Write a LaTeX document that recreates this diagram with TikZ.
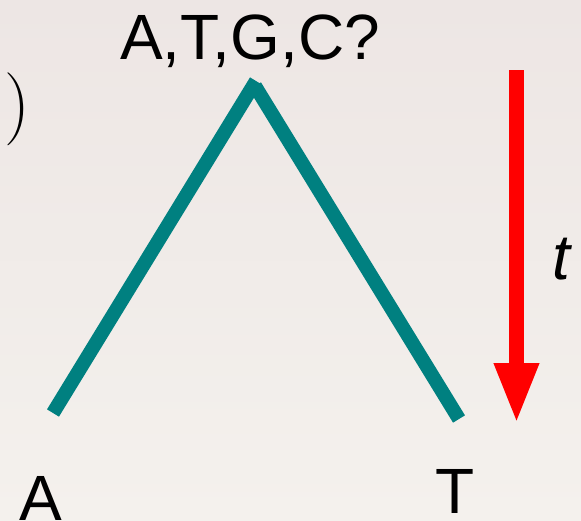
\documentclass[tikz,border=0pt]{standalone}
\usepackage{fontspec}
\setsansfont{Liberation Sans}
\usetikzlibrary{arrows.meta}
\definecolor{bgtop}{HTML}{EDE6E4}
\definecolor{bgbot}{HTML}{F4F1ED}
\definecolor{teal}{HTML}{008080}
\tikzset{
  lbl/.style={font=\sffamily\fontsize{64}{64}\selectfont, text=black, inner sep=0pt, anchor=base},
  branch/.style={draw=teal, line width=14pt, line cap=butt},
  timearrow/.style={draw=red, line width=15pt, -{Triangle[length=61pt,width=41pt]}}
}
\begin{document}
\begin{tikzpicture}[x=1pt,y=-1pt]
\useasboundingbox (0,0) rectangle (581,520);
\shade[top color=bgtop, bottom color=bgbot] (0,0) rectangle (581,520);
% labels
\node[lbl] (root) at (250,59) {A,T,G,C?};
\node[lbl] (leafA) at (41,520) {A};
\node[lbl] (leafT) at (455.5,513) {T};
\node[lbl, font=\sffamily\itshape\fontsize{64}{64}\selectfont] (tlab) at (561,279) {t};
\node[inner sep=0pt, anchor=base, font=\fontsize{73}{73}\selectfont] (paren) at (17,127) {)};
% tree
\coordinate (apexL) at (256,81);
\coordinate (apexR) at (255,86);
\coordinate (endA) at (53,413);
\coordinate (endT) at (459,419);
\draw[branch] (endA) -- (apexL);
\draw[branch] (apexR) -- (endT);
% time arrow
\coordinate (tstart) at (516.5,70);
\coordinate (tend) at (516.5,424);
\draw[timearrow] (tstart) -- (tend);
\end{tikzpicture}
\end{document}
